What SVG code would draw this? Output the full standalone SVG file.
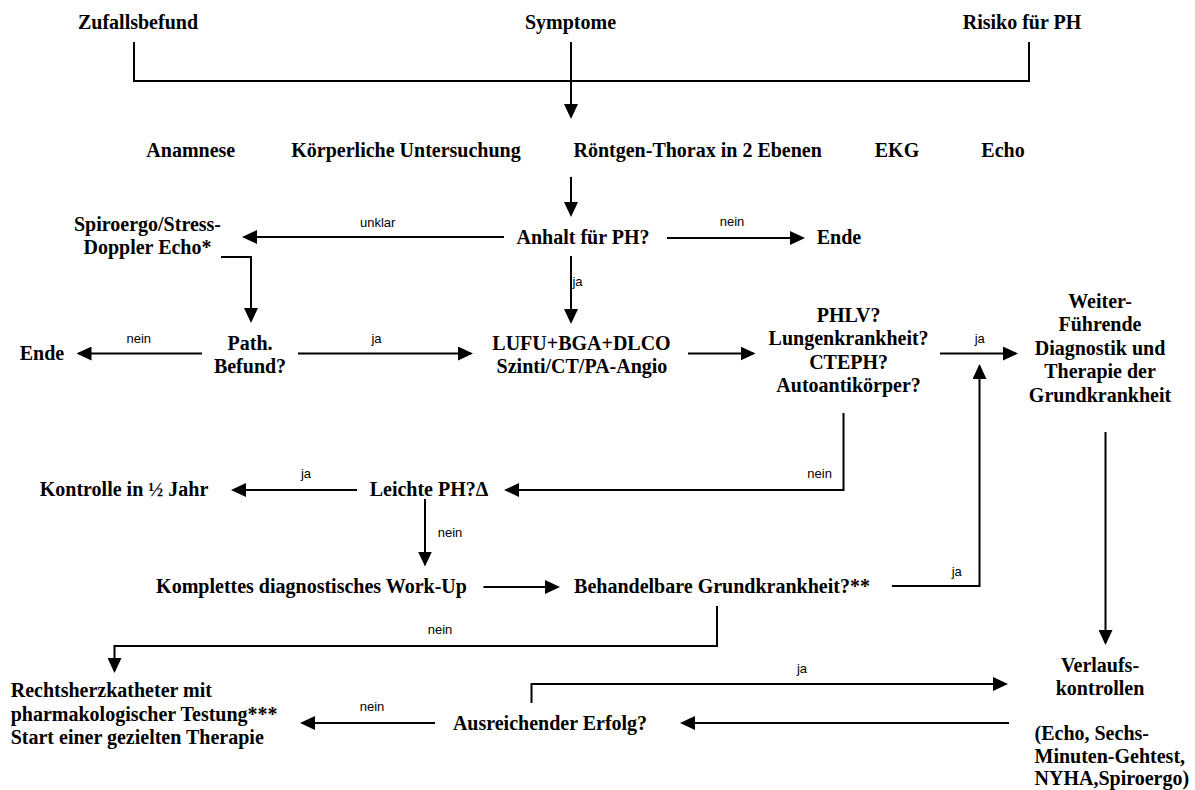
<svg xmlns="http://www.w3.org/2000/svg" width="1195" height="790" viewBox="0 0 1195 790">
<style>
.t{font-family:"Liberation Serif","Times New Roman",serif;font-weight:bold;font-size:20px;fill:#000;text-anchor:middle}
.l{text-anchor:start}
.lb{font-family:"Liberation Sans",Arial,sans-serif;font-size:13px;fill:#000;text-anchor:middle}
.c{fill:none;stroke:#000;stroke-width:2}
.a{marker-end:url(#ah)}
</style>
<defs>
<marker id="ah" markerUnits="userSpaceOnUse" markerWidth="15" markerHeight="14" refX="13" refY="7" orient="auto" viewBox="0 0 15 14"><path d="M0,0 L15,7 L0,14 z" fill="#000"/></marker>
</defs>
<rect width="1195" height="790" fill="#fff"/>
<g id="connectors">
<path class="c" d="M134,42 V81 H1029 V42"/>
<path class="c a" d="M571,42 V117"/>
<path class="c a" d="M571,177 V215"/>
<path class="c a" d="M504,237 H244"/>
<path class="c a" d="M667,238 H803"/>
<path class="c a" d="M571,256 V322"/>
<path class="c a" d="M221,257 H251 V321"/>
<path class="c a" d="M202,353.5 H78.5"/>
<path class="c a" d="M298,353.5 H471"/>
<path class="c a" d="M688,353.5 H753.5"/>
<path class="c a" d="M940,353.5 H1016"/>
<path class="c a" d="M1105.5,432 V643"/>
<path class="c a" d="M843.5,413 V490 H506"/>
<path class="c a" d="M357,490 H233"/>
<path class="c a" d="M425,499 V564.5"/>
<path class="c a" d="M483.5,587 H558"/>
<path class="c a" d="M892,586 H979.5 V366"/>
<path class="c a" d="M717,606 V646 H114.5 V671"/>
<path class="c a" d="M531.5,703 V684 H1006"/>
<path class="c a" d="M1009,723 H682"/>
<path class="c a" d="M435,723 H302"/>
</g>
<g id="edge-labels">
<text class="lb" x="377.7" y="227">unklar</text>
<text class="lb" x="732" y="226">nein</text>
<text class="lb" x="577.5" y="286">ja</text>
<text class="lb" x="138.8" y="343">nein</text>
<text class="lb" x="376.5" y="343">ja</text>
<text class="lb" x="979.7" y="343">ja</text>
<text class="lb" x="306" y="478">ja</text>
<text class="lb" x="819.6" y="478">nein</text>
<text class="lb" x="450" y="537">nein</text>
<text class="lb" x="956.7" y="576">ja</text>
<text class="lb" x="440" y="634">nein</text>
<text class="lb" x="802" y="673">ja</text>
<text class="lb" x="372" y="711">nein</text>
</g>
<g id="zufallsbefund"><text class="t" x="138" y="29">Zufallsbefund</text></g>
<g id="symptome"><text class="t" x="570.5" y="29">Symptome</text></g>
<g id="risiko"><text class="t" x="1022" y="29">Risiko für PH</text></g>
<g id="anamnese"><text class="t" x="190.8" y="157">Anamnese</text></g>
<g id="koerperliche"><text class="t" x="406" y="157">Körperliche Untersuchung</text></g>
<g id="roentgen"><text class="t" x="697.7" y="157">Röntgen-Thorax in 2 Ebenen</text></g>
<g id="ekg"><text class="t" x="897" y="157">EKG</text></g>
<g id="echo"><text class="t" x="1003" y="157">Echo</text></g>
<g id="spiroergo"><text class="t" x="147.5" y="231">Spiroergo/Stress-</text><text class="t" x="147.5" y="254">Doppler Echo*</text></g>
<g id="anhalt"><text class="t" x="583" y="244">Anhalt für PH?</text></g>
<g id="ende1"><text class="t" x="839" y="244">Ende</text></g>
<g id="path-befund"><text class="t" x="250" y="350">Path.</text><text class="t" x="250" y="373">Befund?</text></g>
<g id="ende2"><text class="t" x="42" y="360">Ende</text></g>
<g id="lufu"><text class="t" x="581.5" y="350">LUFU+BGA+DLCO</text><text class="t" x="582" y="373">Szinti/CT/PA-Angio</text></g>
<g id="phlv"><text class="t" x="848.6" y="322">PHLV?</text><text class="t" x="848.6" y="345">Lungenkrankheit?</text><text class="t" x="848.6" y="368.5">CTEPH?</text><text class="t" x="848.6" y="392">Autoantikörper?</text></g>
<g id="weiter"><text class="t" x="1100" y="308">Weiter-</text><text class="t" x="1100" y="331">Führende</text><text class="t" x="1100" y="354.5">Diagnostik und</text><text class="t" x="1100" y="378">Therapie der</text><text class="t" x="1100" y="401.5">Grundkrankheit</text></g>
<g id="kontrolle"><text class="t" x="124" y="496">Kontrolle in ½ Jahr</text></g>
<g id="leichte"><text class="t" x="429" y="496">Leichte PH?Δ</text></g>
<g id="komplettes"><text class="t" x="311.5" y="593">Komplettes diagnostisches Work-Up</text></g>
<g id="behandelbare"><text class="t" x="722" y="593">Behandelbare Grundkrankheit?**</text></g>
<g id="rechtsherz"><text class="t l" x="10.7" y="697">Rechtsherzkatheter mit</text><text class="t l" x="10.7" y="720.5">pharmakologischer Testung***</text><text class="t l" x="10.7" y="744">Start einer gezielten Therapie</text></g>
<g id="ausreichend"><text class="t" x="550" y="730">Ausreichender Erfolg?</text></g>
<g id="verlauf"><text class="t" x="1100" y="672">Verlaufs-</text><text class="t" x="1100" y="695">kontrollen</text><text class="t l" x="1034.5" y="740">(Echo, Sechs-</text><text class="t l" x="1034.5" y="762.5">Minuten-Gehtest,</text><text class="t l" x="1034.5" y="785">NYHA,Spiroergo)</text></g>
</svg>
